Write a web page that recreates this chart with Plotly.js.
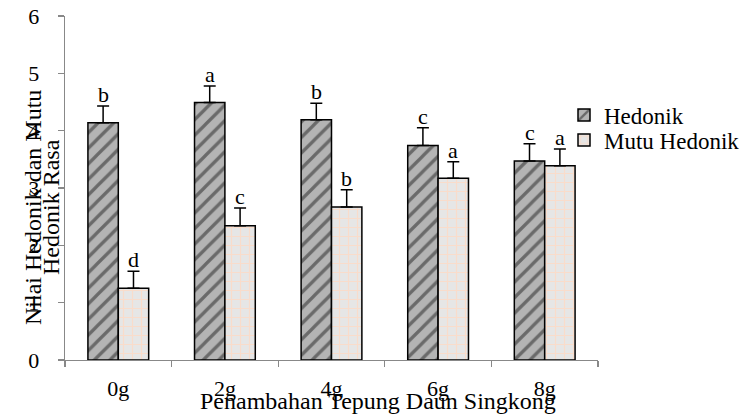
<!DOCTYPE html>
<html>
<head>
<meta charset="utf-8">
<script src="https://cdn.plot.ly/plotly-3.0.1.min.js"></script>
<style>html,body{margin:0;padding:0;background:#fff;}#chart{width:742px;height:419px;}</style>
</head>
<body>
<div id="chart"></div>
<script>
const categories = ['0g', '2g', '4g', '6g', '8g'];
const hedonik = [4.14, 4.49, 4.19, 3.74, 3.47];
const hedonikErr = [0.29, 0.29, 0.29, 0.31, 0.30];
const hedonikLetters = ['b', 'a', 'b', 'c', 'c'];
const mutu = [1.25, 2.34, 2.67, 3.17, 3.39];
const mutuErr = [0.30, 0.31, 0.30, 0.29, 0.29];
const mutuLetters = ['d', 'c', 'b', 'a', 'a'];
const yTicks = [0, 1, 2, 3, 4, 5, 6];

const FONT = 'Liberation Serif';
const W = 742, H = 419;
const M = {l: 65, r: 144, t: 16, b: 59, autoexpand: false};
const PW = W - M.l - M.r, PH = H - M.t - M.b;
const px2x = p => (p - M.l) / PW;
const px2y = p => (H - M.b - p) / PH;

const traces = [
  {
    type: 'bar', name: 'Hedonik', x: categories, y: hedonik,
    marker: {color: '#b4b4b4', line: {color: '#000', width: 1.5},
      pattern: {shape: '/', bgcolor: '#b4b4b4', fgcolor: '#6a6a6a', size: 11, solidity: 0.3}},
    error_y: {type: 'data', array: hedonikErr, symmetric: false, arrayminus: hedonikErr.map(() => 0), color: '#000', thickness: 1.5, width: 6},
    legend: 'legend'
  },
  {
    type: 'bar', name: 'Mutu Hedonik', x: categories, y: mutu,
    marker: {color: '#e6e6e6', line: {color: '#000', width: 1.5},
      pattern: {shape: '+', bgcolor: '#e6e6e6', fgcolor: '#f9dccb', size: 9, solidity: 0.25}},
    error_y: {type: 'data', array: mutuErr, symmetric: false, arrayminus: mutuErr.map(() => 0), color: '#000', thickness: 1.5, width: 6},
    legend: 'legend2'
  }
];

const annotations = [];
categories.forEach((c, i) => {
  annotations.push({x: c, y: hedonik[i] + hedonikErr[i], xref: 'x', yref: 'y', text: hedonikLetters[i], showarrow: false,
    xshift: -15.2, yshift: -3, yanchor: 'bottom', font: {family: FONT, size: 22, color: '#000'}});
  annotations.push({x: c, y: mutu[i] + mutuErr[i], xref: 'x', yref: 'y', text: mutuLetters[i], showarrow: false,
    xshift: 15.2, yshift: -3, yanchor: 'bottom', font: {family: FONT, size: 22, color: '#000'}});
});
annotations.push({xref: 'paper', yref: 'paper', x: px2x(33), y: px2y(208), text: 'Nilai Hedonik dan Mutu', textangle: -90,
  showarrow: false, xanchor: 'center', yanchor: 'middle', font: {family: FONT, size: 24, color: '#000'}});
annotations.push({xref: 'paper', yref: 'paper', x: px2x(51), y: px2y(207), text: 'Hedonik Rasa', textangle: -90,
  showarrow: false, xanchor: 'center', yanchor: 'middle', font: {family: FONT, size: 24, color: '#000'}});
annotations.push({xref: 'paper', yref: 'paper', x: px2x(378), y: px2y(401), text: 'Penambahan Tepung Daun Singkong',
  showarrow: false, xanchor: 'center', yanchor: 'middle', font: {family: FONT, size: 24, color: '#000'}});

const legendCommon = {xanchor: 'left', yanchor: 'middle', bgcolor: 'rgba(0,0,0,0)', borderwidth: 0,
  font: {family: FONT, size: 23, color: '#000'}, itemwidth: 30};

const layout = {
  width: W, height: H,
  margin: M,
  paper_bgcolor: '#fff', plot_bgcolor: '#fff',
  font: {family: FONT, size: 22, color: '#000'},
  barmode: 'group', bargap: 0.43, bargroupgap: 0,
  showlegend: true,
  legend: Object.assign({}, legendCommon, {x: px2x(564), y: px2y(115)}),
  legend2: Object.assign({}, legendCommon, {x: px2x(564), y: px2y(140)}),
  xaxis: {
    type: 'category', showline: true, linecolor: '#888', linewidth: 1.3, automargin: false,
    ticks: 'outside', tickson: 'boundaries', ticklen: 6, tickcolor: '#888', tickwidth: 1.3,
    showgrid: false, zeroline: false, ticklabelstandoff: 8,
    tickfont: {family: FONT, size: 22, color: '#000'}
  },
  yaxis: {
    range: [0, 6], tickvals: yTicks, ticktext: yTicks.map(String), automargin: false,
    showline: true, linecolor: '#888', linewidth: 1.3,
    ticks: 'outside', ticklen: 6, tickcolor: '#888', tickwidth: 1.3,
    showgrid: false, zeroline: false, ticklabelstandoff: 14,
    tickfont: {family: FONT, size: 22, color: '#000'}
  },
  annotations: annotations
};

Plotly.newPlot('chart', traces, layout, {staticPlot: true, displayModeBar: false}).then(() => {
  // keep the legend text from being clipped at the right edge
  document.querySelectorAll('g.legend .scrollbox').forEach(s => s.removeAttribute('clip-path'));
});
</script>
</body>
</html>
